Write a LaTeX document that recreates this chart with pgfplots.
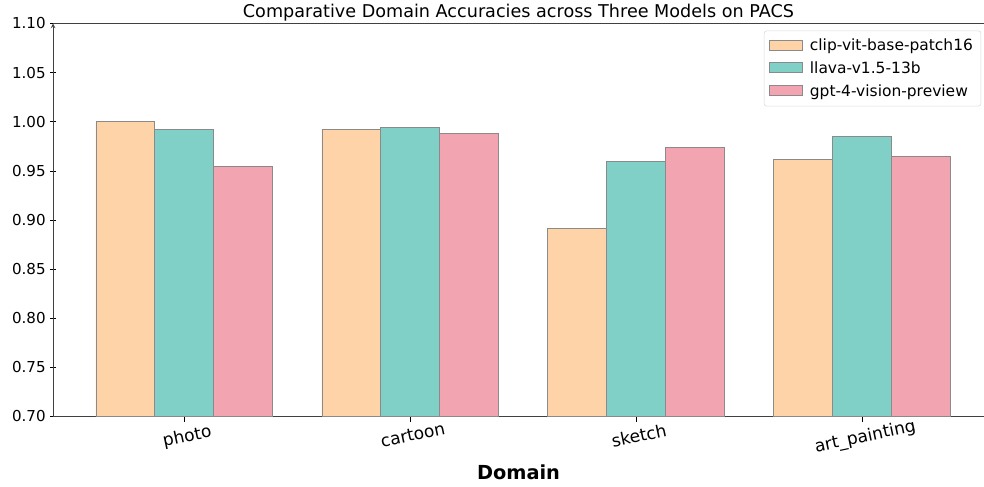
\documentclass[border=0pt]{standalone}
\usepackage{pgfplots}
\pgfplotsset{compat=1.18}
\usepackage{fontspec}
\setmainfont{DejaVu Sans}

\definecolor{clipc}{HTML}{FED3A8}
\definecolor{llavac}{HTML}{80D0C7}
\definecolor{gptc}{HTML}{F2A5B1}
\definecolor{edgec}{HTML}{8A8A8A}

\pgfplotstableread{
x clip llava gpt
0 1.000 0.992 0.954
1 0.992 0.994 0.988
2 0.891 0.960 0.974
3 0.962 0.985 0.965
}\acc

\begin{document}
\begin{tikzpicture}
\begin{axis}[
    name=ax,
    scale only axis,
    width=698pt, height=294.6pt,
    ybar=0pt, bar width=0.26,
    xmin=-0.58, xmax=3.54,
    ymin=0.70, ymax=1.10,
    ytick={0.70,0.75,...,1.101},
    /pgf/number format/fixed,
    /pgf/number format/fixed zerofill,
    /pgf/number format/precision=2,
    /pgf/number format/assume math mode=true,
    xtick=data,
    xticklabels={photo,cartoon,sketch,art\_painting},
    xticklabel style={rotate=12, anchor=north, yshift=-2pt, font=\fontsize{12.8}{14}\selectfont},
    yticklabel style={font=\fontsize{11.3}{13}\selectfont},
    tick style={black, thin},
    major tick length=4pt,
    tick align=outside,
    xtick pos=bottom, ytick pos=left,
    axis x line=box, axis y line=left,
    axis line style={black!75, line width=0.6pt},
    xlabel={\textbf{Domain}},
    xlabel style={font=\fontsize{14.5}{16}\selectfont, yshift=1pt},
    legend style={at={(0.997,0.982)}, anchor=north east, draw=black!15, rounded corners=2pt,
        font=\fontsize{11.6}{13}\selectfont, row sep=2.8pt, inner sep=4pt},
    legend cell align=left,
    legend image code/.code={\path[draw=none, fill=none] (0pt,0pt) -- (28pt,0pt);
        \draw[#1, sharp corners] (0pt,-3.2pt) rectangle (24pt,4.3pt);},
    every axis plot/.append style={draw=edgec, line width=0.6pt},
    clip=false,
]
\addplot[fill=clipc] table[x=x, y=clip] {\acc};
\addplot[fill=llavac] table[x=x, y=llava] {\acc};
\addplot[fill=gptc] table[x=x, y=gpt] {\acc};
\legend{clip-vit-base-patch16, llava-v1.5-13b, gpt-4-vision-preview}
\end{axis}
\node[anchor=base, font=\fontsize{13.2}{15}\selectfont] at ([yshift=4.5pt]ax.north) {Comparative Domain Accuracies across Three Models on PACS};
\pgfresetboundingbox
\path ([xshift=-39.75pt, yshift=-52.3pt]ax.south west) rectangle ([yshift=17.6pt]ax.north east);
\end{tikzpicture}
\end{document}
